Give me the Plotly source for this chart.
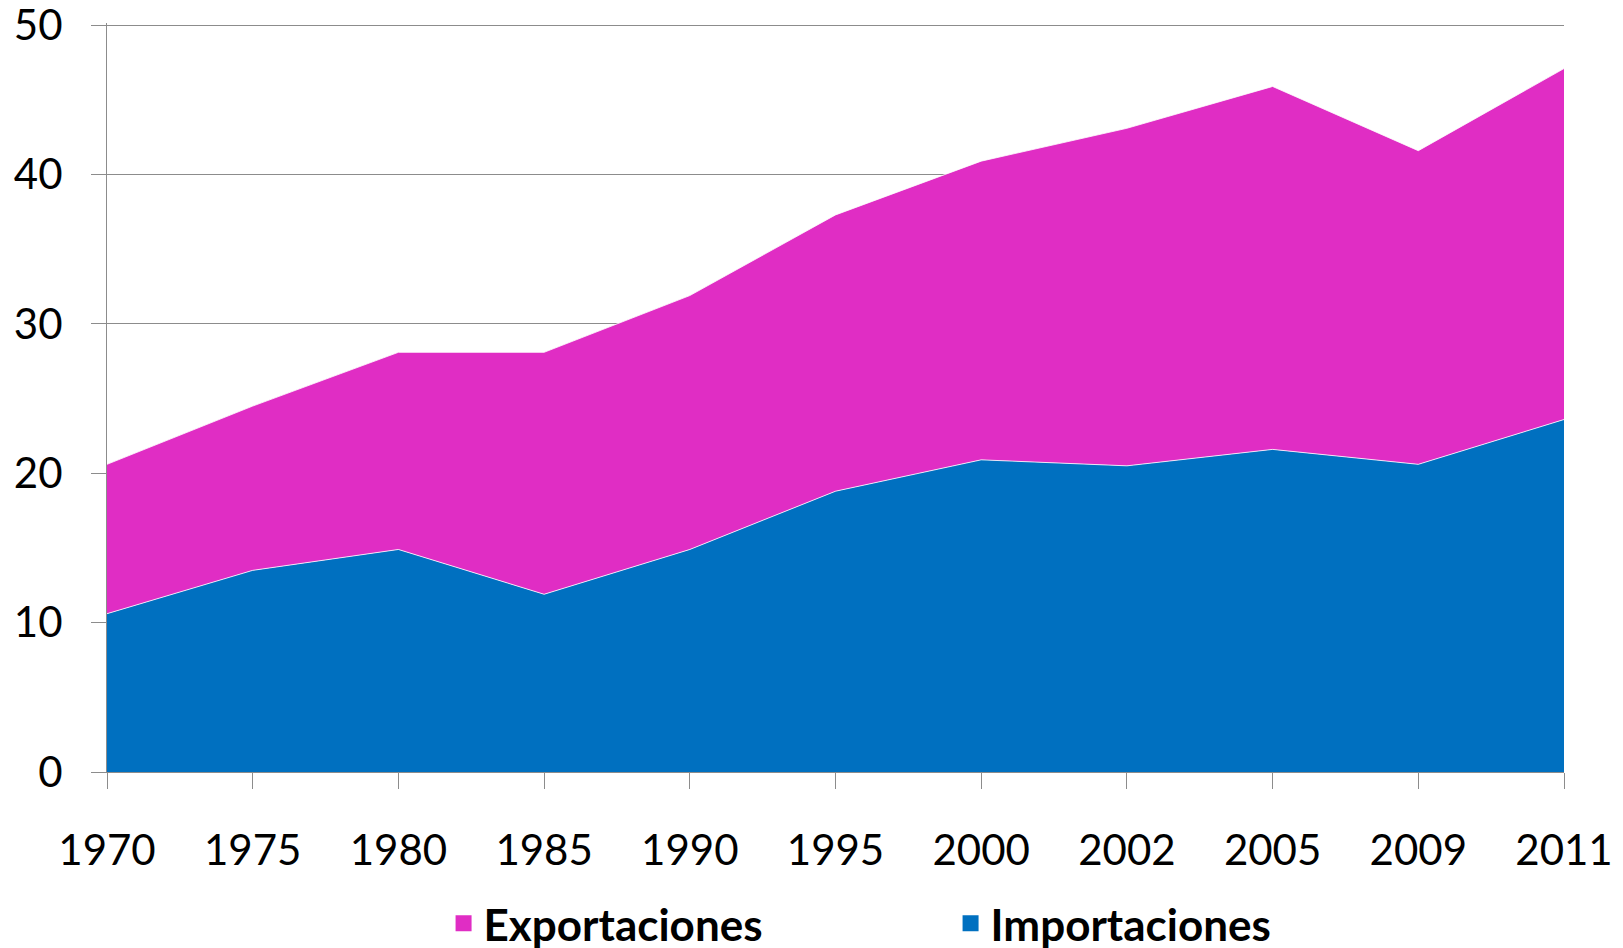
import plotly.graph_objects as go

# años (eje categórico) y valores
years = ['1970', '1975', '1980', '1985', '1990', '1995', '2000', '2002', '2005', '2009', '2011']
importaciones = [10.6, 13.5, 14.9, 11.9, 14.9, 18.8, 20.9, 20.5, 21.6, 20.6, 23.6]
exportaciones = [10.0, 11.0, 13.2, 16.2, 17.0, 18.5, 20.0, 22.6, 24.3, 21.0, 23.5]

blue = '#0070C0'
magenta = '#E02DC4'
font_family = 'Lato'

fig = go.Figure()

# stacked areas: importaciones below, exportaciones on top
fig.add_trace(go.Scatter(x=years, y=importaciones, name='Importaciones', stackgroup='one',
                         mode='lines', line=dict(color='rgba(255,255,255,0.8)', width=1),
                         fillcolor=blue, showlegend=False, hoverinfo='x+y+name'))
fig.add_trace(go.Scatter(x=years, y=exportaciones, name='Exportaciones', stackgroup='one',
                         mode='lines', line=dict(color='rgba(255,255,255,0.8)', width=1),
                         fillcolor=magenta, showlegend=False, hoverinfo='x+y+name'))

# legend entries with square markers
fig.add_trace(go.Scatter(x=[None], y=[None], mode='markers', name='Exportaciones',
                         marker=dict(symbol='square', size=25, color=magenta)))
fig.add_trace(go.Scatter(x=[None], y=[None], mode='markers', name='Importaciones',
                         marker=dict(symbol='square', size=25, color=blue)))

# the page body adds an 8px offset, margins below account for it
# y range goes a bit past 50 so the top gridline is kept
fig.update_layout(
    width=1623, height=948,
    margin=dict(l=99, r=67, t=15, b=184, autoexpand=False),
    paper_bgcolor='white', plot_bgcolor='white',
    font=dict(family=font_family, size=42, color='black'),
    showlegend=True,
    legend=dict(orientation='h', x=0.231, xanchor='left',
                y=0.034, yanchor='middle', yref='container',
                font=dict(family=font_family, size=44, color='black', weight='bold'),
                entrywidth=462, itemsizing='trace', traceorder='normal'),
    xaxis=dict(type='category', range=[0, 10], showgrid=False, showline=True,
               linecolor='#8C8C8C', linewidth=1, ticks='outside', ticklen=16,
               tickcolor='#8C8C8C', ticklabelstandoff=26, automargin=False,
               tickfont=dict(family=font_family, size=42, color='black')),
    yaxis=dict(range=[0, 50.15], tickvals=[0, 10, 20, 30, 40, 50], showgrid=True,
               gridcolor='#8C8C8C', gridwidth=1, showline=True, linecolor='#8C8C8C',
               linewidth=1, ticks='outside', ticklen=15, tickcolor='#8C8C8C',
               ticklabelstandoff=20, zeroline=False, automargin=False,
               ticklabeloverflow='allow',
               tickfont=dict(family=font_family, size=42, color='black')),
)

fig.write_html('out.html')
